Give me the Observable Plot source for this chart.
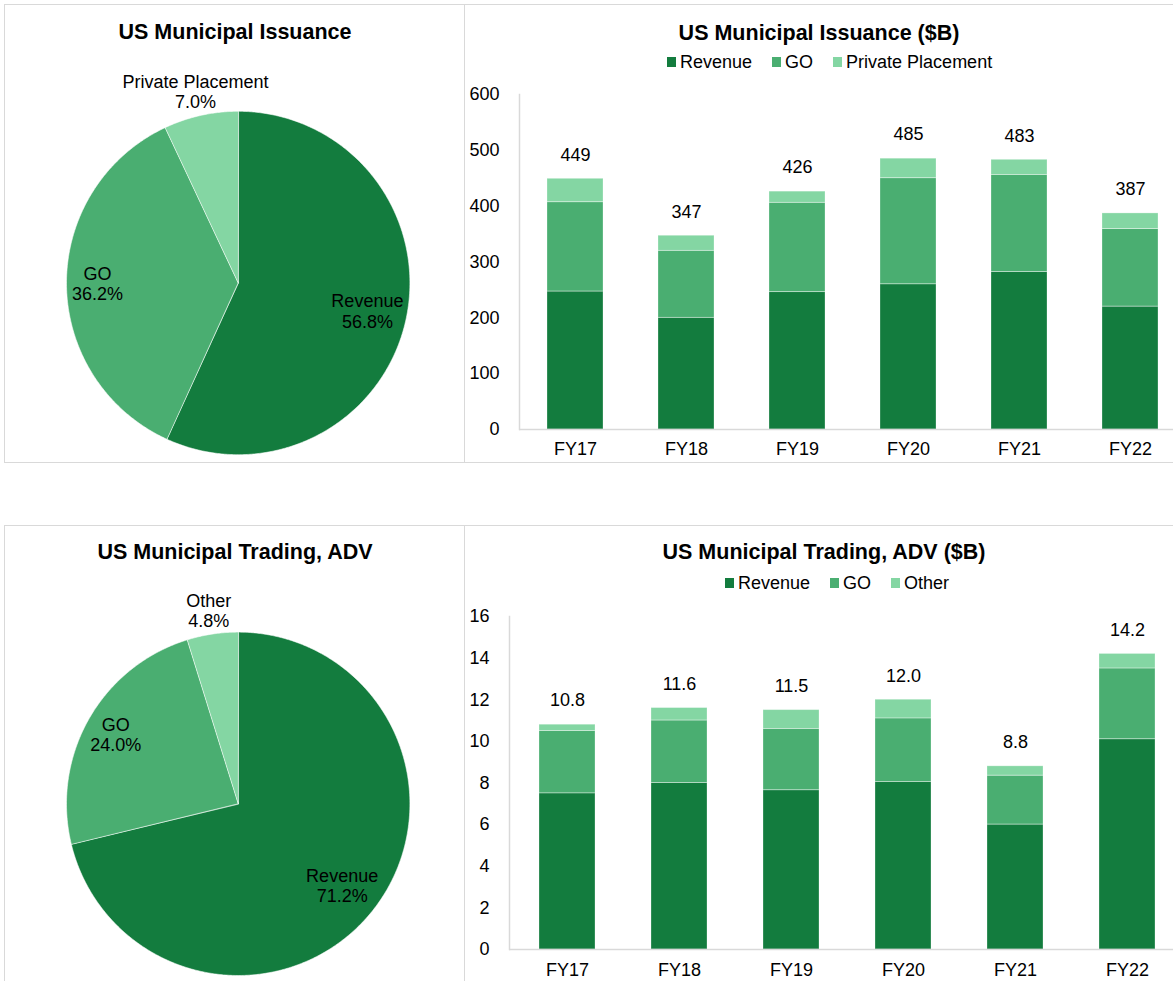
<!DOCTYPE html>
<html><head><meta charset="utf-8">
<script src="https://cdn.jsdelivr.net/npm/d3@7"></script>
<script src="https://cdn.jsdelivr.net/npm/@observablehq/plot@0.6"></script>
<style>
body{margin:0;background:#fff;overflow:hidden;font-family:"Liberation Sans",Arial,sans-serif;color:#000}
#page{position:relative;width:1173px;height:981px;overflow:hidden;background:#fff}
.panel{position:absolute;box-sizing:border-box;border:1px solid #d9d9d9}
.title{position:absolute;font-weight:bold;font-size:21.5px;line-height:25px;text-align:center;white-space:nowrap}
.legend{position:absolute;display:flex;align-items:center;font-size:18px;line-height:20px;white-space:nowrap}
.legend .item{display:flex;align-items:center;margin-right:20px}
.legend .sw{width:9px;height:10px;margin-right:4px}
.chart{position:absolute}
.chart svg{max-width:none !important;background:transparent}
</style></head><body><div id="page"></div>
<script>
// ---------- data ----------
const fiscalYears = ["FY17","FY18","FY19","FY20","FY21","FY22"];

const issuanceSeries = ["Revenue","GO","Private Placement"];
const issuanceRevenue = [247,200,246,260,282,220];
const issuanceGO = [160,120,160,190,174,139];
const issuancePrivate = [42,27,20,35,27,28];
const issuanceTotals = [449,347,426,485,483,387];
const issuanceTicks = [0,100,200,300,400,500,600];

const tradingSeries = ["Revenue","GO","Other"];
const tradingRevenue = [7.5,8.0,7.65,8.05,6.0,10.1];
const tradingGO = [3.0,3.0,2.95,3.05,2.35,3.4];
const tradingOther = [0.3,0.6,0.9,0.9,0.45,0.7];
const tradingTotals = [10.8,11.6,11.5,12.0,8.8,14.2];
const tradingTicks = [0,2,4,6,8,10,12,14,16];

const issuancePieLabels = ["Revenue","GO","Private Placement"];
const issuancePieShares = [56.8,36.2,7.0];
const tradingPieLabels = ["Revenue","GO","Other"];
const tradingPieShares = [71.2,24.0,4.8];

const seriesColors = ["#137c3e","#4aae71","#84d6a3"];
const FONT = "'Liberation Sans', Arial, sans-serif";
const FS = 18;

const page = document.getElementById("page");
function el(cls, css, html){const d=document.createElement("div");d.className=cls;Object.assign(d.style,css);if(html!=null)d.innerHTML=html;page.appendChild(d);return d;}

// panels
el("panel",{left:"4px",top:"4px",width:"461px",height:"459px"});
el("panel",{left:"464px",top:"4px",width:"730px",height:"459px"});
el("panel",{left:"4px",top:"525px",width:"461px",height:"480px"});
el("panel",{left:"464px",top:"525px",width:"730px",height:"480px"});

// titles
el("title",{left:"5px",width:"460px",top:"20px"},"US Municipal Issuance");
el("title",{left:"465px",width:"708px",top:"20.5px"},"US Municipal Issuance ($B)");
el("title",{left:"5px",width:"460px",top:"539.5px"},"US Municipal Trading, ADV");
el("title",{left:"465px",width:"718px",top:"540px"},"US Municipal Trading, ADV ($B)");

function legend(series, left, top){
  const d = el("legend",{left:left+"px",top:top+"px"});
  series.forEach((s,i)=>{
    const it=document.createElement("div");it.className="item";
    const sw=document.createElement("div");sw.className="sw";sw.style.background=seriesColors[i];
    const t=document.createElement("span");t.textContent=s;
    it.appendChild(sw);it.appendChild(t);d.appendChild(it);
  });
}
legend(issuanceSeries, 667, 52);
legend(tradingSeries, 725, 573);

function barChart({series, values, totals, ticks, yMax, fmt, left, top, width, height, mLeft, mTop, mBottom, xPad}){
  const rows=[];
  fiscalYears.forEach((yr,i)=>series.forEach((s,j)=>rows.push({year:yr,series:s,value:values[j][i]})));
  const totalRows=fiscalYears.map((yr,i)=>({year:yr,total:totals[i]}));
  const p = Plot.plot({
    width, height, marginLeft:mLeft, marginRight:0, marginTop:mTop, marginBottom:mBottom,
    style:{fontFamily:FONT,fontSize:FS+"px",color:"#000",background:"transparent",maxWidth:"none"},
    x:{domain:fiscalYears,paddingInner:0.5,paddingOuter:0.25,axis:null,label:null},
    y:{domain:[0,yMax],axis:null,label:null},
    color:{domain:series,range:seriesColors},
    marks:[
      Plot.barY(rows,{x:"year",y:"value",fill:"series"}),
      Plot.barY(rows,{x:"year",y:"value",stroke:"#ffffff",strokeOpacity:0.35,strokeWidth:0.8,fill:"none"}),
      Plot.frame({anchor:"left",stroke:"#d9d9d9",strokeWidth:1.5}),
      Plot.ruleY([0],{stroke:"#d9d9d9",strokeWidth:1.5}),
      Plot.axisY({ticks,tickSize:0,tickPadding:20,fontSize:FS,label:null,tickFormat:d=>String(d)}),
      Plot.axisX({tickSize:0,tickPadding:xPad,fontSize:FS,label:null}),
      Plot.text(totalRows,{x:"year",y:"total",text:d=>fmt(d.total),dy:-24,fontSize:FS,fill:"#000"})
    ]
  });
  const c=el("chart",{left:left+"px",top:top+"px"});
  c.appendChild(p);
}

barChart({series:issuanceSeries,values:[issuanceRevenue,issuanceGO,issuancePrivate],totals:issuanceTotals,
  ticks:issuanceTicks,yMax:600,fmt:d=>String(d),left:465,top:80,width:720,height:380,mLeft:54,mTop:14,mBottom:31,xPad:13});
barChart({series:tradingSeries,values:[tradingRevenue,tradingGO,tradingOther],totals:tradingTotals,
  ticks:tradingTicks,yMax:16,fmt:d=>d.toFixed(1),left:465,top:600,width:720,height:381,mLeft:44,mTop:16,mBottom:32,xPad:14});

function pieChart({labels, shares, svgTop, cx, cy, r}){
  const w=465,h=460;
  const arcs=d3.pie().sort(null).value(d=>d)(shares);
  const slices=arcs.map(a=>{
    const n=Math.max(2,Math.ceil((a.endAngle-a.startAngle)/(Math.PI/360)));
    const pts=[{x:0,y:0}];
    for(let k=0;k<=n;k++){const t=a.startAngle+(a.endAngle-a.startAngle)*k/n;pts.push({x:Math.sin(t),y:-Math.cos(t)});}
    return pts;
  });
  const maxShare=d3.max(shares);
  const labelRows=arcs.map((a,i)=>{
    const mid=(a.startAngle+a.endAngle)/2;
    const rr=shares[i]<10?1.14:(shares[i]===maxShare?0.77:0.82);
    return {x:rr*Math.sin(mid),y:-rr*Math.cos(mid),text:labels[i]+"\n"+shares[i].toFixed(1)+"%"};
  });
  const p=Plot.plot({
    width:w,height:h,margin:0,
    style:{fontFamily:FONT,fontSize:FS+"px",color:"#000",background:"transparent",maxWidth:"none"},
    x:{domain:[-1,1],range:[cx-r,cx+r],axis:null},
    y:{domain:[-1,1],range:[cy-r-svgTop,cy+r-svgTop],axis:null},
    marks:[
      ...slices.map((pts,i)=>Plot.line(pts,{x:"x",y:"y",fill:seriesColors[i],stroke:"#ffffff",strokeWidth:0.8,strokeOpacity:0.7,curve:"linear-closed"})),
      Plot.text(labelRows,{x:"x",y:"y",text:"text",fontSize:FS,lineHeight:1.12,fill:"#000"})
    ]
  });
  const c=el("chart",{left:"0px",top:svgTop+"px"});
  c.appendChild(p);
}
pieChart({labels:issuancePieLabels,shares:issuancePieShares,svgTop:0,cx:237.7,cy:282.5,r:171.7});
pieChart({labels:tradingPieLabels,shares:tradingPieShares,svgTop:521,cx:237.7,cy:803.3,r:171.7});
</script></body></html>
